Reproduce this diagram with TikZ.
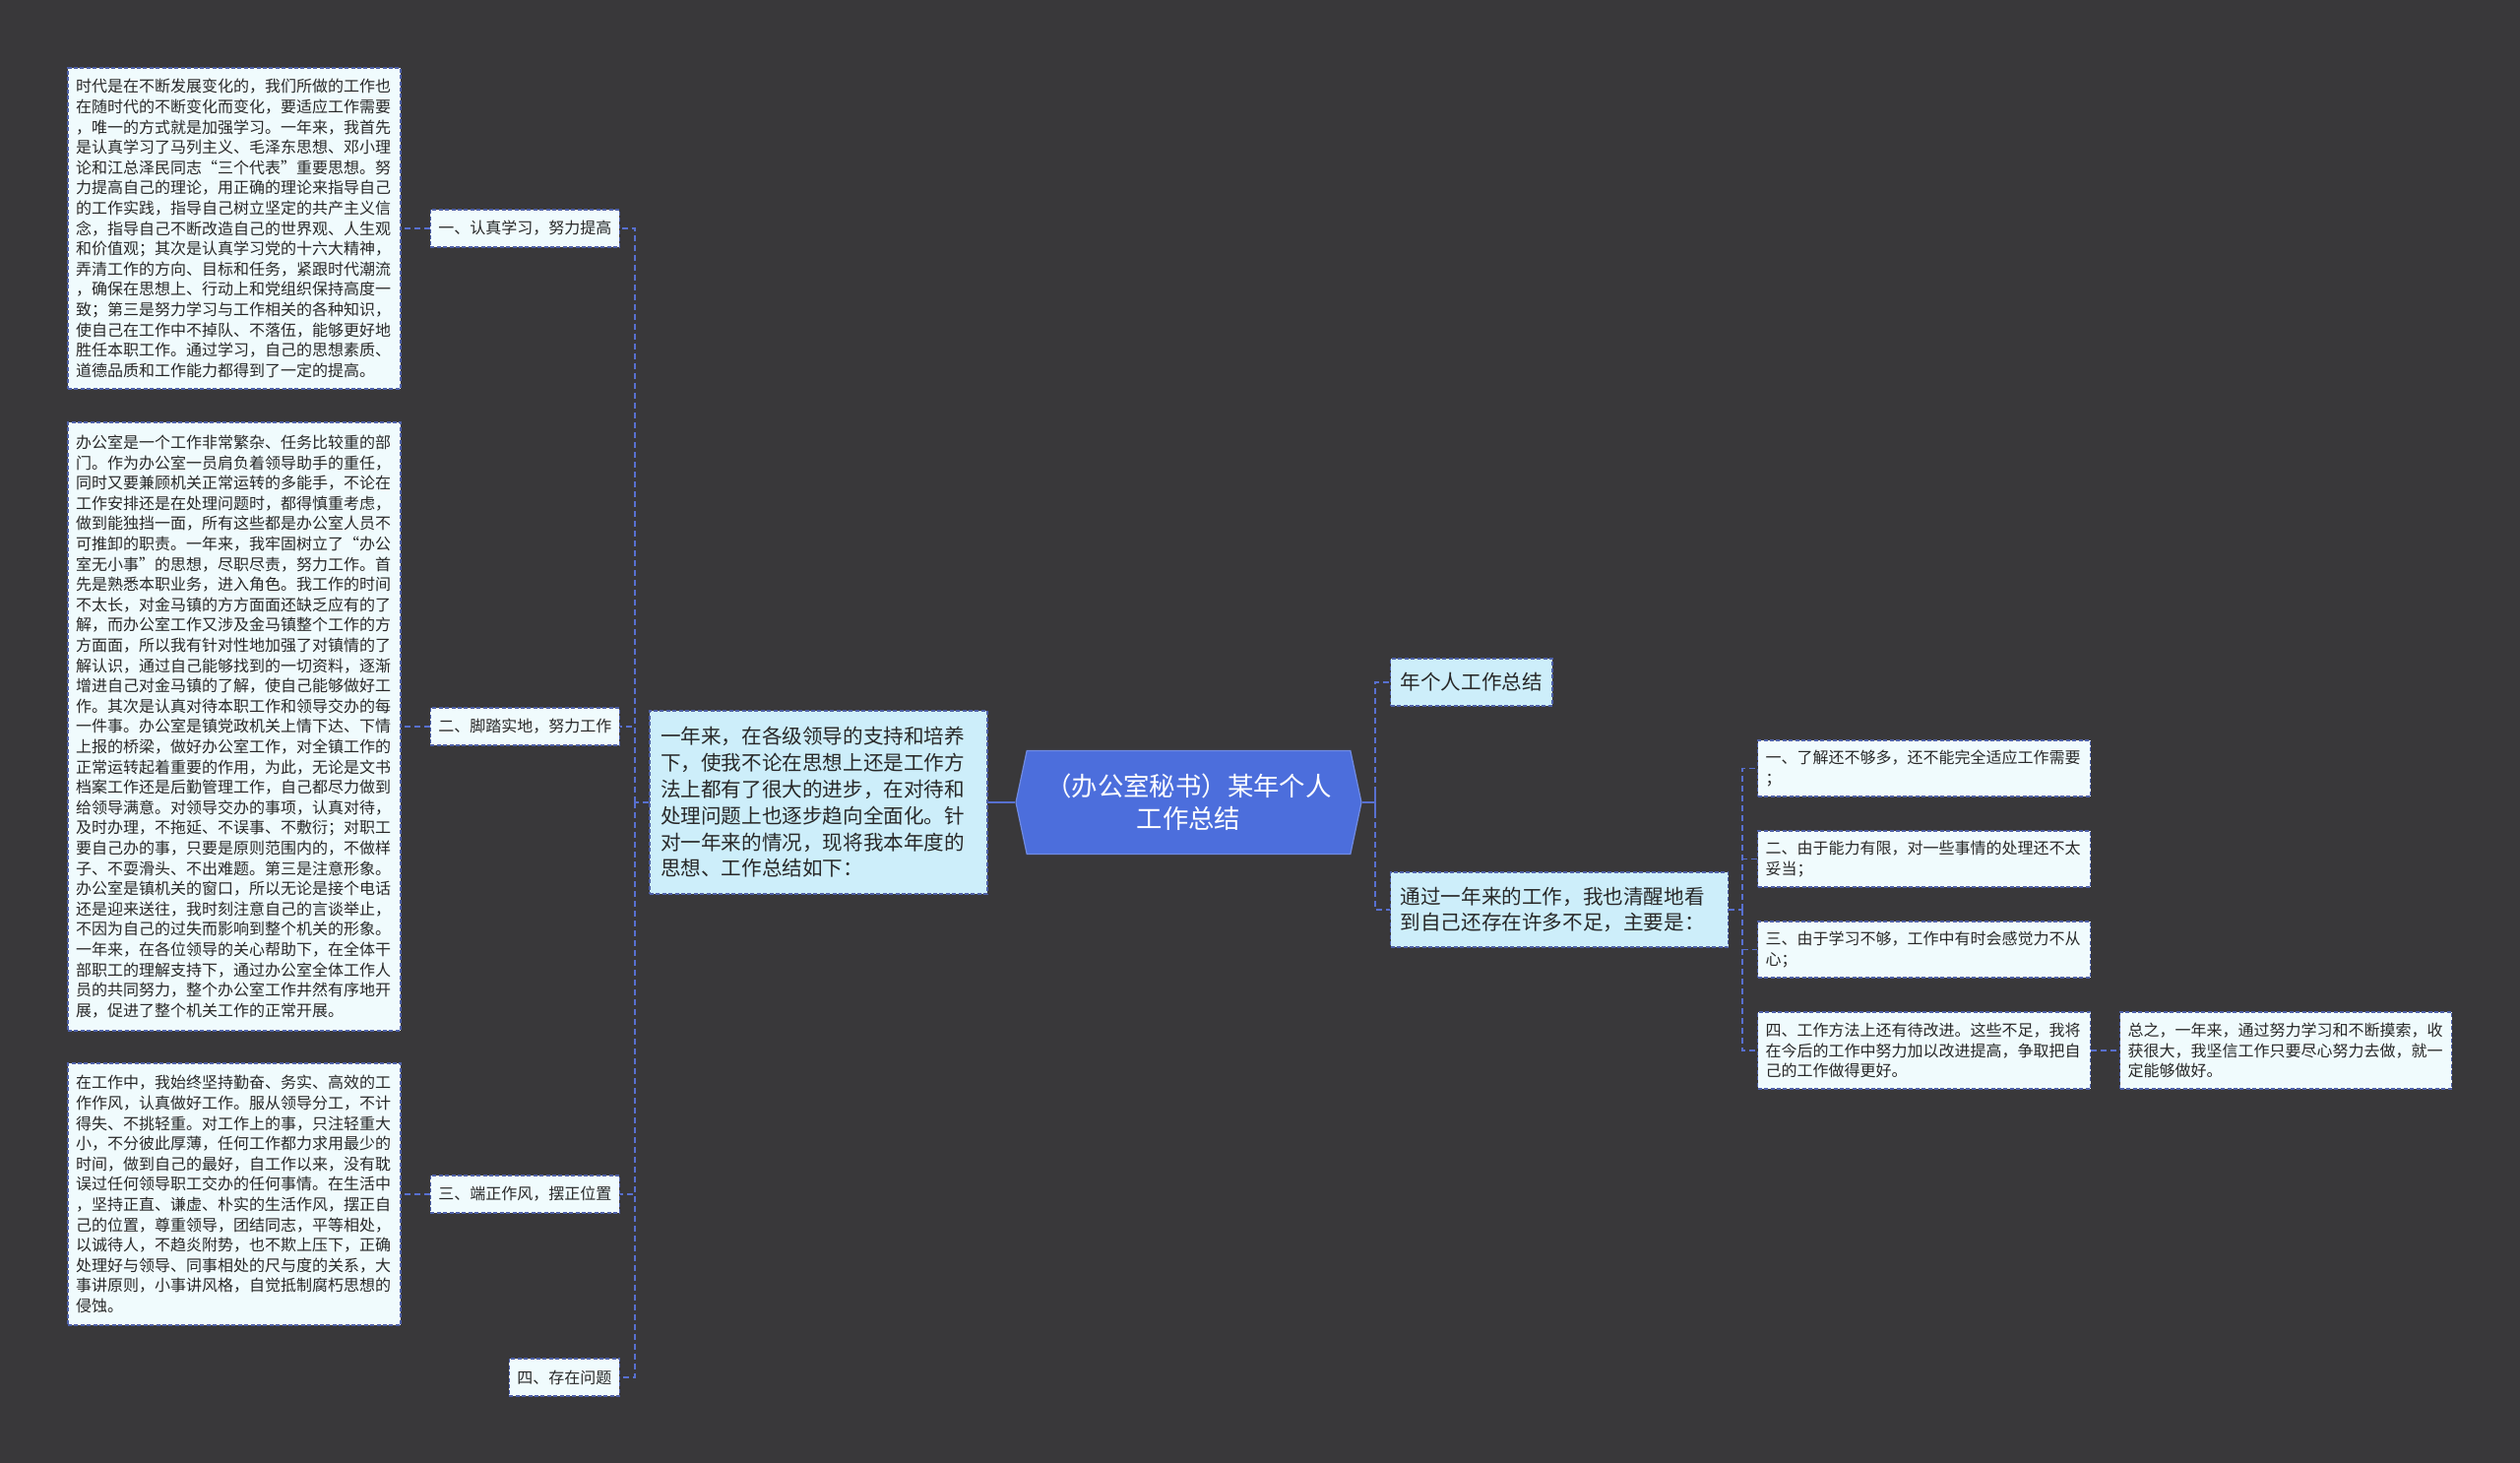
\documentclass[tikz,border=0pt]{standalone}
\usepackage{fontspec}
\setmainfont{Noto Sans CJK SC}
\usetikzlibrary{shapes.symbols}
\definecolor{bgcol}{RGB}{57,56,58}
\definecolor{leaffill}{RGB}{240,251,253}
\definecolor{hifill}{RGB}{205,238,250}
\definecolor{bordercol}{RGB}{78,96,168}
\definecolor{linecol}{RGB}{88,112,208}
\definecolor{rootfill}{RGB}{76,110,220}
\definecolor{txtcol}{RGB}{40,40,40}
\begin{document}
\begin{tikzpicture}[x=0.5pt,y=-0.5pt,
  boxbase/.style={rectangle, draw=bordercol, line width=0.7pt, dash pattern=on 2pt off 1.2pt, text=txtcol, align=left},
  leaf/.style={boxbase, fill=leaffill, font=\fontsize{8pt}{10.3pt}\selectfont, inner xsep=4pt, inner ysep=4pt, text width=161pt},
  lone/.style={boxbase, fill=leaffill, font=\fontsize{8pt}{10pt}\selectfont, inner xsep=4pt, inner ysep=0pt, minimum height=19pt, anchor=east},
  hibox/.style={boxbase, fill=hifill, font=\fontsize{10.3pt}{13.4pt}\selectfont, inner xsep=5pt, inner ysep=4pt},
  item/.style={leaf, anchor=west, font=\fontsize{8pt}{10.25pt}\selectfont},
  conn/.style={draw=linecol, line width=0.9pt, dash pattern=on 3pt off 2pt},
  rootline/.style={draw=linecol, line width=1.2pt},
  rootbox/.style={signal, signal to=west and east, signal pointer angle=156, fill=rootfill, draw=rootfill!80!white, line width=0.6pt, text=white, align=center, font=\fontsize{13.2pt}{16.5pt}\selectfont, minimum width=175.5pt, minimum height=52.5pt, inner sep=0pt}
]
\useasboundingbox (0,0) rectangle (2560,1486);
\fill[bgcol] (0,0) rectangle (2560,1486);

% left text boxes
\node[leaf, minimum height=163pt] (t1) at (238,232) {时代是在不断发展变化的，我们所做的工作也\\在随时代的不断变化而变化，要适应工作需要\\，唯一的方式就是加强学习。一年来，我首先\\是认真学习了马列主义、毛泽东思想、邓小理\\论和江总泽民同志“三个代表”重要思想。努\\力提高自己的理论，用正确的理论来指导自己\\的工作实践，指导自己树立坚定的共产主义信\\念，指导自己不断改造自己的世界观、人生观\\和价值观；其次是认真学习党的十六大精神，\\弄清工作的方向、目标和任务，紧跟时代潮流\\，确保在思想上、行动上和党组织保持高度一\\致；第三是努力学习与工作相关的各种知识，\\使自己在工作中不掉队、不落伍，能够更好地\\胜任本职工作。通过学习，自己的思想素质、\\道德品质和工作能力都得到了一定的提高。};

\node[leaf, minimum height=309pt] (t2) at (238,738) {办公室是一个工作非常繁杂、任务比较重的部\\门。作为办公室一员肩负着领导助手的重任，\\同时又要兼顾机关正常运转的多能手，不论在\\工作安排还是在处理问题时，都得慎重考虑，\\做到能独挡一面，所有这些都是办公室人员不\\可推卸的职责。一年来，我牢固树立了“办公\\室无小事”的思想，尽职尽责，努力工作。首\\先是熟悉本职业务，进入角色。我工作的时间\\不太长，对金马镇的方方面面还缺乏应有的了\\解，而办公室工作又涉及金马镇整个工作的方\\方面面，所以我有针对性地加强了对镇情的了\\解认识，通过自己能够找到的一切资料，逐渐\\增进自己对金马镇的了解，使自己能够做好工\\作。其次是认真对待本职工作和领导交办的每\\一件事。办公室是镇党政机关上情下达、下情\\上报的桥梁，做好办公室工作，对全镇工作的\\正常运转起着重要的作用，为此，无论是文书\\档案工作还是后勤管理工作，自己都尽力做到\\给领导满意。对领导交办的事项，认真对待，\\及时办理，不拖延、不误事、不敷衍；对职工\\要自己办的事，只要是原则范围内的，不做样\\子、不耍滑头、不出难题。第三是注意形象。\\办公室是镇机关的窗口，所以无论是接个电话\\还是迎来送往，我时刻注意自己的言谈举止，\\不因为自己的过失而影响到整个机关的形象。\\一年来，在各位领导的关心帮助下，在全体干\\部职工的理解支持下，通过办公室全体工作人\\员的共同努力，整个办公室工作井然有序地开\\展，促进了整个机关工作的正常开展。};

\node[leaf, minimum height=133pt] (t3) at (238,1213) {在工作中，我始终坚持勤奋、务实、高效的工\\作作风，认真做好工作。服从领导分工，不计\\得失、不挑轻重。对工作上的事，只注轻重大\\小，不分彼此厚薄，任何工作都力求用最少的\\时间，做到自己的最好，自工作以来，没有耽\\误过任何领导职工交办的任何事情。在生活中\\，坚持正直、谦虚、朴实的生活作风，摆正自\\己的位置，尊重领导，团结同志，平等相处，\\以诚待人，不趋炎附势，也不欺上压下，正确\\处理好与领导、同事相处的尺与度的关系，大\\事讲原则，小事讲风格，自觉抵制腐朽思想的\\侵蚀。};

% level-1 left
\node[lone] (a1) at (630,232) {一、认真学习，努力提高};
\node[lone] (a2) at (630,738) {二、脚踏实地，努力工作};
\node[lone] (a3) at (630,1213) {三、端正作风，摆正位置};
\node[lone] (a4) at (630,1399) {四、存在问题};

% intro
\node[hibox, text width=160.5pt, minimum height=93pt, inner xsep=5.5pt] (intro) at (831.5,815) {一年来，在各级领导的支持和培养\\下，使我不论在思想上还是工作方\\法上都有了很大的进步，在对待和\\处理问题上也逐步趋向全面化。针\\对一年来的情况，现将我本年度的\\思想、工作总结如下：};

% root
\node[rootbox] (root) at (1207.5,815) {（办公室秘书）某年个人\\工作总结};

% right
\node[hibox, anchor=west, minimum height=24pt, inner ysep=0pt] (r1) at (1412,693) {年个人工作总结};
\node[hibox, anchor=west, text width=161.5pt, minimum height=38pt] (r2) at (1412,924) {通过一年来的工作，我也清醒地看\\到自己还存在许多不足，主要是：};

\node[item, minimum height=28.5pt] (i1) at (1785,780.5) {一、了解还不够多，还不能完全适应工作需要\\；};
\node[item, minimum height=28.5pt] (i2) at (1785,872.5) {二、由于能力有限，对一些事情的处理还不太\\妥当；};
\node[item, minimum height=28.5pt] (i3) at (1785,964.5) {三、由于学习不够，工作中有时会感觉力不从\\心；};
\node[item, minimum height=39pt] (i4) at (1785,1067) {四、工作方法上还有待改进。这些不足，我将\\在今后的工作中努力加以改进提高，争取把自\\己的工作做得更好。};
\node[item, minimum height=39pt, text width=160.5pt] (fin) at (2153,1067) {总之，一年来，通过努力学习和不断摸索，收\\获很大，我坚信工作只要尽心努力去做，就一\\定能够做好。};

% connectors
\coordinate (lb) at (645,815);
\coordinate (rb) at (1397,815);
\coordinate (sb) at (1770,924);

\draw[conn] (intro.west) -- (lb);
\draw[conn] (lb) |- (a1.east);
\draw[conn] (lb) |- (a2.east);
\draw[conn] (lb) |- (a3.east);
\draw[conn] (lb) |- (a4.east);
\draw[conn] (a1.west) -- (t1.east);
\draw[conn] (a2.west) -- (t2.east);
\draw[conn] (a3.west) -- (t3.east);

\draw[rootline] (root.west) -- (intro.east);
\draw[rootline] (root.east) -- (rb);
\draw[rootline] ([yshift=-5pt]rb) -- ([yshift=5pt]rb);
\draw[conn] (rb) |- (r1.west);
\draw[conn] (rb) |- (r2.west);

\draw[conn] (r2.east) -- (sb);
\draw[conn] (sb) |- (i1.west);
\draw[conn] (sb) |- (i2.west);
\draw[conn] (sb) |- (i3.west);
\draw[conn] (sb) |- (i4.west);
\draw[conn] (i4.east) -- (fin.west);
\end{tikzpicture}
\end{document}
